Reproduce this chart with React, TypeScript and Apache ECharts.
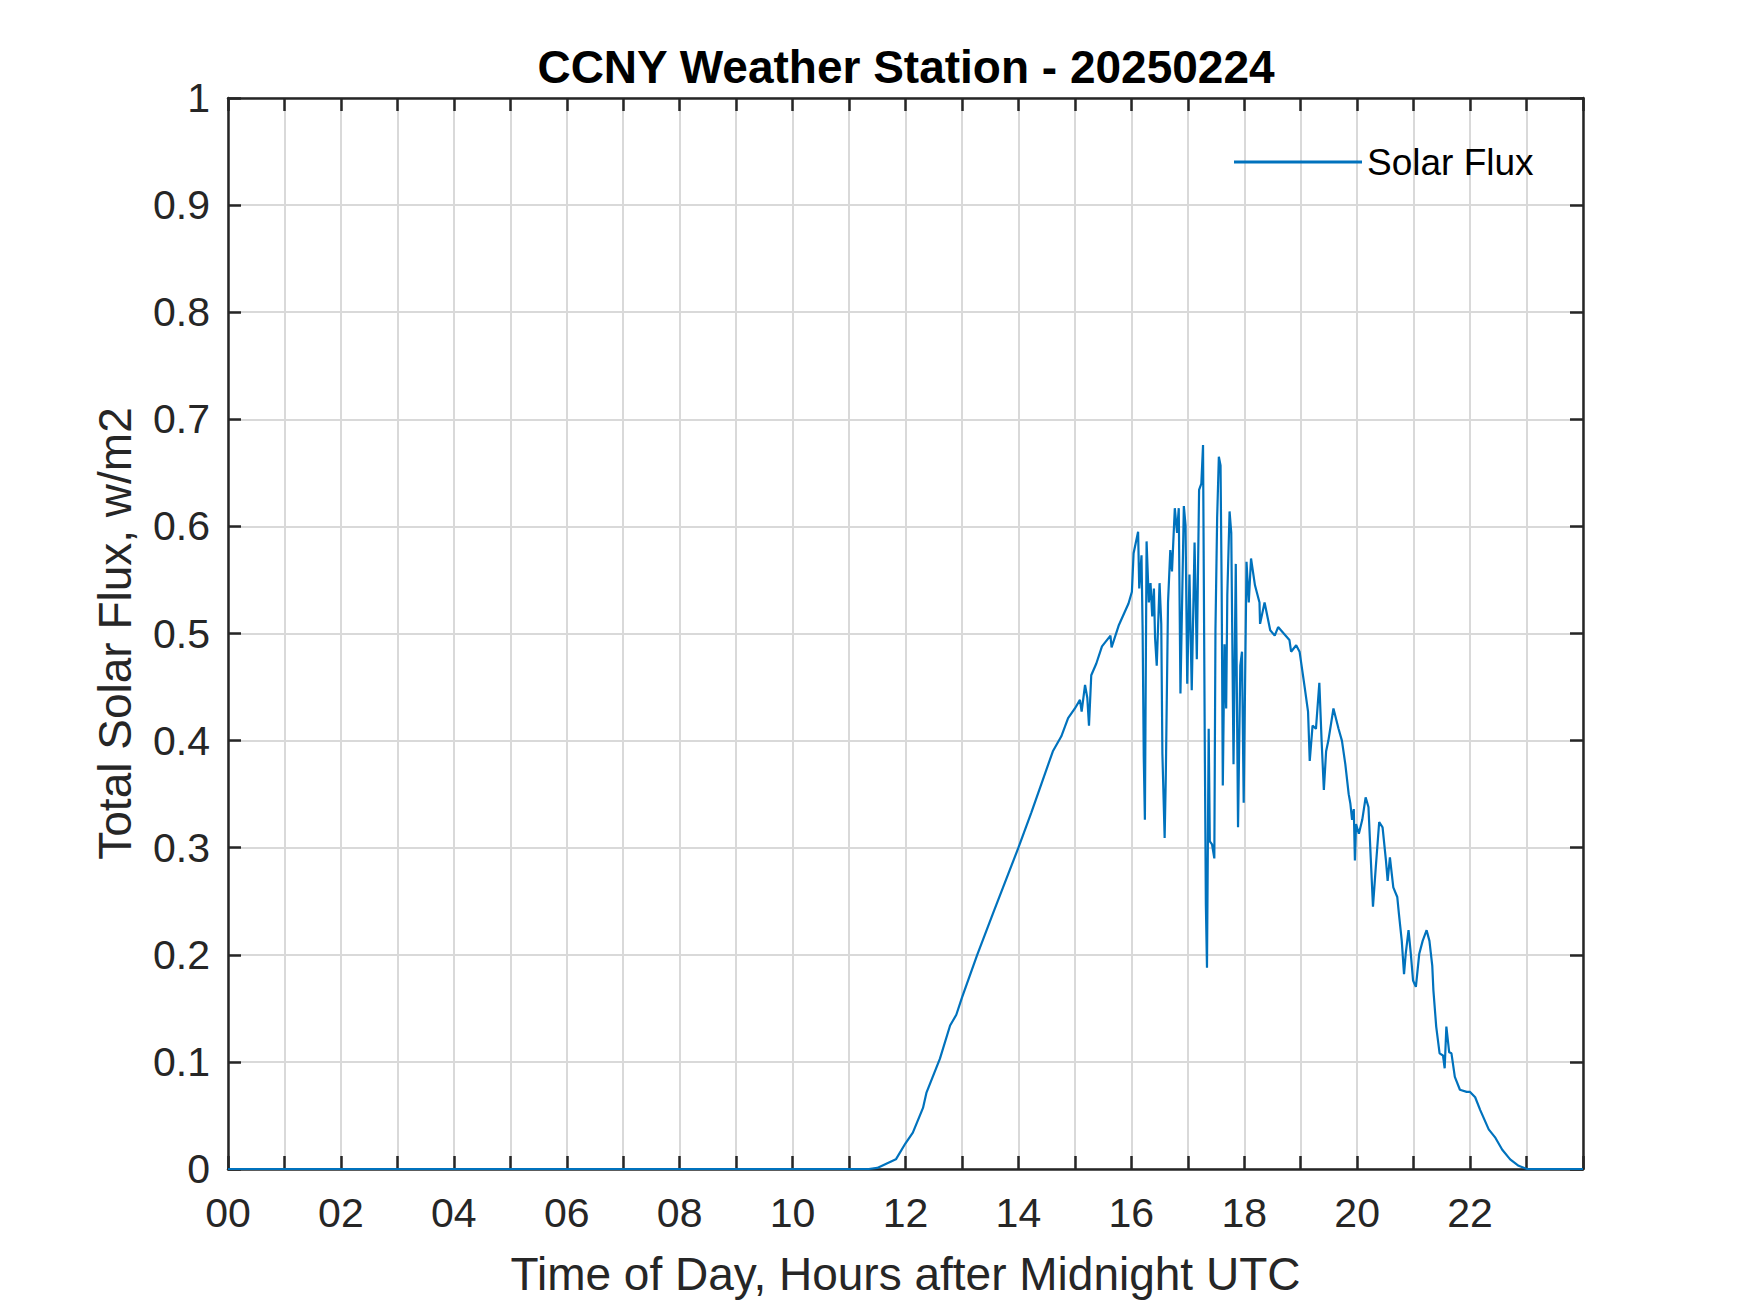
import React, { useEffect, useRef } from "react";
import * as echarts from "echarts";

const TITLE = "CCNY Weather Station - 20250224";
const X_NAME = "Time of Day, Hours after Midnight UTC";
const Y_NAME = "Total Solar Flux, w/m2";
const SERIES_NAME = "Solar Flux";

// hours after midnight UTC
const hours: number[] = [
  0, 11.35, 11.5, 11.66, 11.83, 12.0, 12.13, 12.31, 12.37, 12.61, 12.79, 12.9, 13.0, 13.27, 13.56,
  14.0, 14.23, 14.61, 14.76, 14.88, 15.0, 15.09, 15.12, 15.18, 15.22, 15.25, 15.29, 15.38, 15.48,
  15.63, 15.65, 15.78, 15.95, 16.01, 16.04, 16.12, 16.14, 16.18, 16.2, 16.22, 16.24, 16.25, 16.27,
  16.31, 16.34, 16.37, 16.4, 16.42, 16.45, 16.5, 16.53, 16.55, 16.59, 16.61, 16.65, 16.69, 16.72,
  16.77, 16.81, 16.84, 16.87, 16.93, 16.96, 16.99, 17.03, 17.07, 17.12, 17.16, 17.2, 17.24, 17.27,
  17.3, 17.32, 17.34, 17.37, 17.39, 17.43, 17.47, 17.49, 17.52, 17.55, 17.58, 17.6, 17.62, 17.65,
  17.68, 17.7, 17.74, 17.77, 17.81, 17.85, 17.89, 17.93, 17.96, 17.99, 18.04, 18.08, 18.12, 18.19,
  18.27, 18.28, 18.36, 18.46, 18.54, 18.6, 18.8, 18.83, 18.92, 18.98, 19.07, 19.13, 19.16, 19.21,
  19.27, 19.33, 19.37, 19.41, 19.45, 19.49, 19.58, 19.67, 19.73, 19.79, 19.85, 19.88, 19.91, 19.94,
  19.96, 19.98, 20.03, 20.09, 20.15, 20.2, 20.24, 20.28, 20.33, 20.39, 20.45, 20.51, 20.54, 20.58,
  20.64, 20.71, 20.74, 20.79, 20.83, 20.86, 20.91, 20.95, 20.99, 21.04, 21.1, 21.16, 21.23, 21.28,
  21.33, 21.35, 21.4, 21.46, 21.52, 21.55, 21.58, 21.63, 21.67, 21.73, 21.82, 21.94, 22.0, 22.09,
  22.18, 22.33, 22.45, 22.57, 22.71, 22.86, 23.01, 24,
];

// total solar flux, w/m2
const flux: number[] = [
  0, 0, 0.001, 0.005, 0.009, 0.024, 0.034, 0.057, 0.071, 0.103, 0.134, 0.144, 0.16, 0.2, 0.24,
  0.3, 0.333, 0.39, 0.404, 0.421, 0.43, 0.438, 0.427, 0.452, 0.44, 0.414, 0.461, 0.472, 0.488,
  0.498, 0.487, 0.508, 0.528, 0.539, 0.575, 0.595, 0.542, 0.573, 0.503, 0.385, 0.326, 0.411, 0.586,
  0.529, 0.547, 0.516, 0.542, 0.496, 0.47, 0.547, 0.509, 0.388, 0.309, 0.365, 0.529, 0.578, 0.558,
  0.617, 0.594, 0.617, 0.444, 0.619, 0.601, 0.453, 0.555, 0.447, 0.585, 0.476, 0.634, 0.64, 0.676,
  0.404, 0.247, 0.188, 0.411, 0.306, 0.303, 0.29, 0.503, 0.608, 0.665, 0.657, 0.542, 0.358, 0.49,
  0.43, 0.536, 0.614, 0.594, 0.378, 0.565, 0.319, 0.47, 0.483, 0.342, 0.567, 0.529, 0.57, 0.545,
  0.529, 0.509, 0.529, 0.503, 0.498, 0.506, 0.494, 0.483, 0.489, 0.483, 0.45, 0.427, 0.381, 0.414,
  0.411, 0.454, 0.4, 0.354, 0.39, 0.4, 0.43, 0.411, 0.4, 0.378, 0.35, 0.341, 0.326, 0.336,
  0.288, 0.322, 0.313, 0.326, 0.347, 0.338, 0.291, 0.245, 0.282, 0.324, 0.319, 0.288, 0.269, 0.291,
  0.263, 0.254, 0.238, 0.213, 0.182, 0.201, 0.223, 0.201, 0.176, 0.17, 0.201, 0.213, 0.223, 0.213,
  0.19, 0.167, 0.133, 0.108, 0.106, 0.094, 0.133, 0.109, 0.108, 0.086, 0.074, 0.072, 0.072, 0.067,
  0.055, 0.037, 0.029, 0.018, 0.009, 0.003, 0, 0,
];

const X_MIN = 0;
const X_MAX = 24;
const X_STEP = 1;
const Y_MIN = 0;
const Y_MAX = 1;
const Y_STEP = 0.1;

const FONT = "'Liberation Sans', Arial, Helvetica, sans-serif";
const AXIS_COLOR = "#262626";
const GRID_COLOR = "#d9d9d9";
const LINE_COLOR = "#0072BD";

export default function App() {
  const ref = useRef<HTMLDivElement>(null);

  useEffect(() => {
    if (!ref.current) return;
    const chart = echarts.init(ref.current, undefined, { renderer: "svg" });
    const data = hours.map((h, i) => [h, flux[i]]);

    const commonAxisLine = { show: true, onZero: false, lineStyle: { color: AXIS_COLOR, width: 2.5 } };
    const commonTick = { show: true, inside: true, length: 13, lineStyle: { color: AXIS_COLOR, width: 2.5 } };

    chart.setOption({
      animation: false,
      backgroundColor: "#ffffff",
      textStyle: { fontFamily: FONT },
      title: {
        text: TITLE,
        left: 906,
        top: 44,
        textAlign: "center",
        padding: 0,
        textStyle: { fontFamily: FONT, fontSize: 46, fontWeight: "bold", color: "#000000", lineHeight: 46 },
      },
      legend: {
        show: true,
        data: [{ name: SERIES_NAME, icon: "rect" }],
        left: 1234,
        top: 141,
        padding: 0,
        itemWidth: 128,
        itemHeight: 3,
        textStyle: { fontFamily: FONT, fontSize: 37, color: "#000000", lineHeight: 42 },
      },
      grid: { left: 228, top: 98, width: 1355, height: 1071, containLabel: false },
      xAxis: [
        {
          type: "value",
          position: "bottom",
          min: X_MIN,
          max: X_MAX,
          interval: X_STEP,
          axisLine: commonAxisLine,
          axisTick: commonTick,
          splitLine: { show: true, lineStyle: { color: GRID_COLOR, width: 2 } },
          axisLabel: {
            show: true,
            margin: 23,
            fontFamily: FONT,
            fontSize: 41,
            lineHeight: 41,
            color: AXIS_COLOR,
            formatter: (v: number) =>
              Math.round(v) % 2 === 0 && v < X_MAX ? String(Math.round(v)).padStart(2, "0") : "",
          },
          name: X_NAME,
          nameLocation: "middle",
          nameGap: 82,
          nameTextStyle: { fontFamily: FONT, fontSize: 46, color: AXIS_COLOR, lineHeight: 46 },
        },
        {
          type: "value",
          position: "top",
          min: X_MIN,
          max: X_MAX,
          interval: X_STEP,
          axisLine: commonAxisLine,
          axisTick: commonTick,
          splitLine: { show: false },
          axisLabel: { show: false },
        },
      ],
      yAxis: [
        {
          type: "value",
          position: "left",
          min: Y_MIN,
          max: Y_MAX,
          interval: Y_STEP,
          axisLine: commonAxisLine,
          axisTick: commonTick,
          splitLine: { show: true, lineStyle: { color: GRID_COLOR, width: 2 } },
          axisLabel: {
            show: true,
            margin: 18,
            fontFamily: FONT,
            fontSize: 41,
            lineHeight: 41,
            color: AXIS_COLOR,
            formatter: (v: number) => String(Number(v.toFixed(1))),
          },
          name: Y_NAME,
          nameLocation: "middle",
          nameGap: 90,
          nameTextStyle: { fontFamily: FONT, fontSize: 46, color: AXIS_COLOR, lineHeight: 46 },
        },
        {
          type: "value",
          position: "right",
          min: Y_MIN,
          max: Y_MAX,
          interval: Y_STEP,
          axisLine: commonAxisLine,
          axisTick: commonTick,
          splitLine: { show: false },
          axisLabel: { show: false },
        },
      ],
      series: [
        {
          name: SERIES_NAME,
          type: "line",
          xAxisIndex: 0,
          yAxisIndex: 0,
          data,
          showSymbol: false,
          symbol: "none",
          clip: false,
          lineStyle: { color: LINE_COLOR, width: 2.2 },
          itemStyle: { color: LINE_COLOR },
          z: 5,
        },
      ],
    });

    return () => chart.dispose();
  }, []);

  return (
    <div
      ref={ref}
      style={{ position: "fixed", left: 0, top: 0, width: 1750, height: 1313, background: "#ffffff" }}
    />
  );
}
